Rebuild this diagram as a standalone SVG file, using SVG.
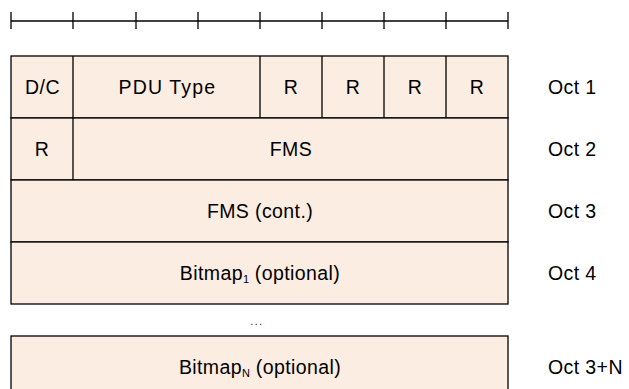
<svg xmlns="http://www.w3.org/2000/svg" width="629" height="389" viewBox="0 0 629 389">
<style>
.c{fill:#FCEDE2;stroke:#000;stroke-width:1.3}
.l{stroke:#000;stroke-width:1.3;fill:none}
text{font-family:"Liberation Sans",Arial,sans-serif;font-size:19.5px;letter-spacing:0.4px;fill:#000}
.m{text-anchor:middle}
.s{font-size:11px;letter-spacing:0}
</style>
<rect width="629" height="389" fill="#fff"/>
<g id="ruler" class="l">
<line x1="11" y1="21" x2="508" y2="21"/>
<path d="M11 12V29M73 12V29M136 12V29M198 12V29M260 12V29M322 12V29M384 12V29M446 12V29M508 12V29"/>
</g>
<g id="oct1">
<rect class="c" x="11" y="56" width="497" height="62"/>
<path class="l" d="M73 56V118M260 56V118M322 56V118M384 56V118M446 56V118"/>
<text class="m" x="42.5" y="94">D/C</text>
<text class="m" x="167" y="94" textLength="97" lengthAdjust="spacing">PDU Type</text>
<text class="m" x="291" y="94">R</text>
<text class="m" x="353" y="94">R</text>
<text class="m" x="415" y="94">R</text>
<text class="m" x="477" y="94">R</text>
<text x="548" y="94">Oct 1</text>
</g>
<g id="oct2">
<rect class="c" x="11" y="118" width="497" height="62"/>
<path class="l" d="M73 118V180"/>
<text class="m" x="42" y="156">R</text>
<text class="m" x="291" y="156">FMS</text>
<text x="548" y="156">Oct 2</text>
</g>
<g id="oct3">
<rect class="c" x="11" y="180" width="497" height="62"/>
<text class="m" x="260" y="218">FMS (cont.)</text>
<text x="548" y="218">Oct 3</text>
</g>
<g id="oct4">
<rect class="c" x="11" y="242" width="497" height="62"/>
<text class="m" x="260" y="280">Bitmap<tspan class="s" dy="3">1</tspan><tspan dy="-3"> (optional)</tspan></text>
<text x="548" y="280">Oct 4</text>
</g>
<text class="m" x="257" y="325" style="font-size:10px;letter-spacing:1.5px">...</text>
<g id="octN">
<rect class="c" x="11" y="336" width="497" height="62"/>
<text class="m" x="260" y="374">Bitmap<tspan class="s" dy="3">N</tspan><tspan dy="-3"> (optional)</tspan></text>
<text x="548" y="374">Oct 3+N</text>
</g>
</svg>
